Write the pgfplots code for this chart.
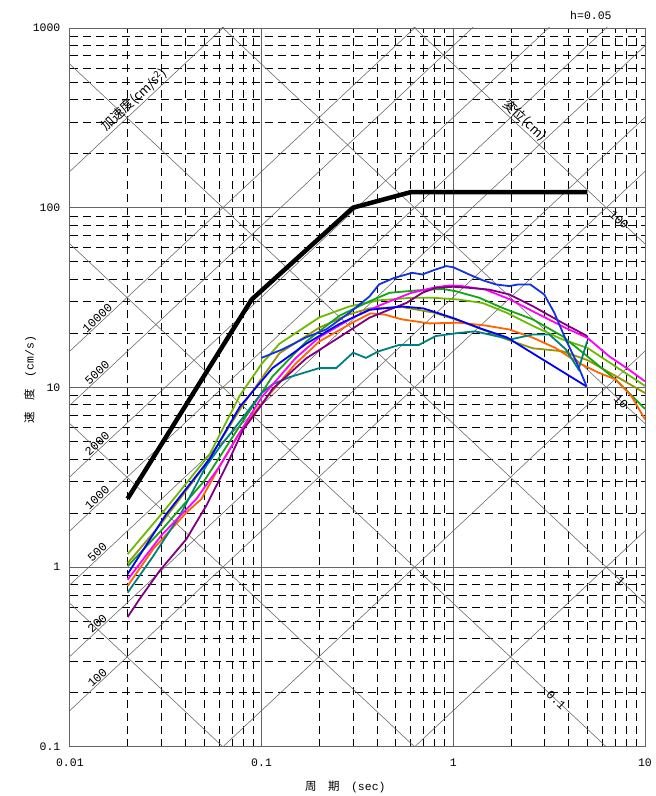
\documentclass[border=0pt]{standalone}
\usepackage{pgfplots}
\pgfplotsset{compat=1.18}
\usepackage{fontspec}
\setmainfont{Liberation Serif}
\newfontfamily\cjk{Noto Sans CJK JP}
\newfontfamily\monof{Liberation Mono}
\definecolor{clime}{RGB}{110,185,0}
\definecolor{cgreen}{RGB}{20,165,20}
\definecolor{colive}{RGB}{150,150,0}
\definecolor{cblue}{RGB}{0,0,255}
\definecolor{ccyb}{RGB}{20,50,225}
\definecolor{cmag}{RGB}{255,0,255}
\definecolor{cpur}{RGB}{128,0,128}
\definecolor{corange}{RGB}{255,100,0}
\definecolor{cteal}{RGB}{0,128,128}
\definecolor{gridgray}{RGB}{100,100,100}
\begin{document}
\begin{tikzpicture}
\begin{axis}[
  xmode=log, ymode=log,
  xmin=0.01, xmax=10, ymin=0.1, ymax=1000,
  width=576pt, height=720pt, scale only axis,
  clip mode=individual,
  axis line style={gridgray, line width=0.9pt},
  xtick={0.01,0.1,1,10}, xticklabels={0.01,0.1,1,10},
  ytick={0.1,1,10,100,1000}, yticklabels={0.1,1,10,100,1000},
  minor xtick={0.02,0.03,0.04,0.05,0.06,0.07,0.08,0.09,0.2,0.3,0.4,0.5,0.6,0.7,0.8,0.9,2,3,4,5,6,7,8,9},
  minor ytick={0.2,0.3,0.4,0.5,0.6,0.7,0.8,0.9,2,3,4,5,6,7,8,9,20,30,40,50,60,70,80,90,200,300,400,500,600,700,800,900},
  grid=both,
  major grid style={gridgray, line width=0.8pt},
  minor grid style={black, line width=0.6pt, dash pattern=on 8pt off 5pt},
  major tick length=0pt, minor tick length=0pt,
  xticklabel style={font=\monof\fontsize{11.5}{13}\selectfont, anchor=north, yshift=-9pt},
  yticklabel style={font=\monof\fontsize{11.5}{13}\selectfont, xshift=-6pt},
]
% acceleration lines (SA = const)
\addplot[gridgray, line width=0.55pt, forget plot] coordinates {(0.01,0.0015915) (10,1.5915)};
\addplot[gridgray, line width=0.55pt, forget plot] coordinates {(0.01,0.015915) (10,15.915)};
\addplot[gridgray, line width=0.55pt, forget plot] coordinates {(0.01,0.15915) (10,159.15)};
\addplot[gridgray, line width=0.55pt, forget plot] coordinates {(0.01,0.31831) (10,318.31)};
\addplot[gridgray, line width=0.55pt, forget plot] coordinates {(0.01,0.79577) (10,795.77)};
\addplot[gridgray, line width=0.55pt, forget plot] coordinates {(0.01,1.5915) (10,1591.5)};
\addplot[gridgray, line width=0.55pt, forget plot] coordinates {(0.01,3.1831) (10,3183.1)};
\addplot[gridgray, line width=0.55pt, forget plot] coordinates {(0.01,7.9577) (10,7957.7)};
\addplot[gridgray, line width=0.55pt, forget plot] coordinates {(0.01,15.915) (10,15915)};
\addplot[gridgray, line width=0.55pt, forget plot] coordinates {(0.01,159.15) (10,159150)};
% displacement lines (SD = const)
\addplot[gridgray, line width=0.55pt, forget plot] coordinates {(0.01,0.62832) (10,0.00062832)};
\addplot[gridgray, line width=0.55pt, forget plot] coordinates {(0.01,6.2832) (10,0.0062832)};
\addplot[gridgray, line width=0.55pt, forget plot] coordinates {(0.01,62.832) (10,0.062832)};
\addplot[gridgray, line width=0.55pt, forget plot] coordinates {(0.01,628.32) (10,0.62832)};
\addplot[gridgray, line width=0.55pt, forget plot] coordinates {(0.01,6283.2) (10,6.2832)};
\addplot[gridgray, line width=0.55pt, forget plot] coordinates {(0.01,62832) (10,62.832)};
% spectra
\addplot[clime, line width=1.8pt] coordinates {(0.02,1.18) (0.03,1.97) (0.0536,4.24) (0.077,9.0) (0.1,13.5) (0.124,17.5) (0.2,24.5) (0.287,28.2) (0.41,30.5) (0.6,31.5) (0.8,31.5) (1.07,30.8) (1.42,29.5) (1.9,26) (2.6,22) (3.7,18.5) (5,16.6) (7,13.1) (10,10.2)};
\addplot[colive, line width=1.8pt] coordinates {(0.02,1.05) (0.03,1.75) (0.05,3.6) (0.08,8.0) (0.124,15.5) (0.2,21.5) (0.287,25.5) (0.365,27.5) (0.54,28) (0.8,26) (1.07,23.5) (1.42,21) (1.9,18.5) (2.6,16.5) (3.7,15.9) (5,14.2) (7,11.6) (10,9.3)};
\addplot[cgreen, line width=1.8pt] coordinates {(0.02,1.01) (0.03,1.6) (0.05,3.0) (0.08,6.5) (0.114,11.5) (0.171,18) (0.254,25) (0.365,30.1) (0.465,33.6) (0.66,34.7) (0.88,35.3) (1.03,34.3) (1.37,31.5) (1.8,27.7) (2.6,23.9) (3.7,19.3) (5,14.9) (7,11.1) (10,7.6)};
\addplot[corange, line width=1.8pt] coordinates {(0.02,0.784) (0.0272,1.26) (0.0405,2.01) (0.0485,2.39) (0.0605,3.65) (0.0767,5.6) (0.0976,7.87) (0.15,13.5) (0.2,18) (0.3,23) (0.37,25.8) (0.44,25.4) (0.54,23.9) (0.75,22.7) (1.07,22.9) (1.47,22.1) (1.96,21) (2.6,18.9) (3.4,16.6) (4.5,13.7) (5.7,12.1) (7,11.1) (8.5,8.95) (10,6.64)};
\addplot[cteal, line width=1.8pt] coordinates {(0.02,0.72) (0.0272,1.15) (0.0373,1.92) (0.0514,3.65) (0.06,4.6) (0.08,6.8) (0.1,9.3) (0.114,10.4) (0.14,11.4) (0.2,12.8) (0.245,12.8) (0.3,15.6) (0.35,14.6) (0.41,15.9) (0.52,17.2) (0.66,17.2) (0.81,19.3) (1.07,20.1) (1.3,20.5) (1.6,19.5) (2.0,18.5) (2.6,19.7) (3.17,19.7) (3.86,16.3) (4.5,12.6) (5.0,18.1)};
\addplot[cmag, line width=1.8pt] coordinates {(0.02,0.85) (0.03,1.5) (0.0456,2.39) (0.0605,3.65) (0.08,6.0) (0.1,8.8) (0.15,14.5) (0.2,19) (0.3,24.5) (0.41,28.5) (0.6,33.5) (0.8,36) (0.96,36.9) (1.11,36.6) (1.47,35) (1.96,31) (2.6,26.5) (3.86,21.4) (5,18.9) (6.5,14.9) (8.2,12.6) (10,10.8)};
\addplot[cpur, line width=1.8pt] coordinates {(0.02,0.527) (0.0231,0.664) (0.0294,0.954) (0.0405,1.43) (0.0514,2.19) (0.0655,3.65) (0.08,5.8) (0.1,8.0) (0.114,9.8) (0.171,14.5) (0.254,19) (0.365,24.4) (0.465,27.1) (0.57,29.5) (0.69,33.6) (0.81,35.8) (1.0,36.3) (1.21,35.8) (1.54,35.0) (1.96,32.9) (2.6,28.3) (3.7,22.9) (5.0,19.3)};
\addplot[cblue, line width=1.8pt] coordinates {(0.02,0.914) (0.0318,1.97) (0.0536,4.0) (0.077,7.8) (0.09,9.5) (0.114,12.8) (0.171,17.5) (0.254,22.5) (0.365,27) (0.54,28.2) (0.7,27.5) (1.0,24.3) (1.4,21.2) (1.9,19) (4.97,10.1)};
\addplot[ccyb, line width=1.8pt] coordinates {(0.1,14.6) (0.129,16.3) (0.171,19) (0.217,21) (0.287,26) (0.365,32) (0.41,37.4) (0.49,40.6) (0.61,43.4) (0.69,42.5) (0.81,45.3) (0.92,47.3) (1.0,46.6) (1.21,42.5) (1.42,39.5) (1.67,37.4) (1.96,36.6) (2.18,37.4) (2.52,37.4) (2.98,32.9) (3.36,26.1) (3.86,18.5) (4.37,14) (4.97,10.1)};
\addplot[black, line width=4.5pt] coordinates {(0.02,2.4) (0.0887,30.8) (0.3,100) (0.6,122) (5.0,122)};
% line labels
\begin{scope}[every node/.style={font=\monof\fontsize{12}{13}\selectfont, inner sep=1pt}]
\node[anchor=south, rotate=43.15] at (axis cs:0.0145,0.2308) {100};
\node[anchor=south, rotate=43.15] at (axis cs:0.0145,0.4615) {200};
\node[anchor=south, rotate=43.15] at (axis cs:0.0145,1.154) {500};
\node[anchor=south, rotate=43.15] at (axis cs:0.0145,2.308) {1000};
\node[anchor=south, rotate=43.15] at (axis cs:0.0145,4.615) {2000};
\node[anchor=south, rotate=43.15] at (axis cs:0.0145,11.54) {5000};
\node[anchor=south, rotate=43.15] at (axis cs:0.0145,23.08) {10000};
\node[rotate=-43.15] at (axis cs:7.32,85.8) {100};
\node[rotate=-43.15] at (axis cs:7.5,8.38) {10};
\node[rotate=-43.15] at (axis cs:7.5,0.838) {1};
\node[rotate=-43.15] at (axis cs:3.44,0.1826) {0.1};
\end{scope}
\node[anchor=south, rotate=43.15, inner sep=1pt, font=\cjk\fontsize{13}{14}\selectfont] at (axis cs:0.02315,368.5) {加速度(cm/s\textsuperscript{2})};
\node[anchor=south, rotate=-43.15, inner sep=1pt, font=\cjk\fontsize{13}{14}\selectfont] at (axis cs:2.207,284.7) {変位(cm)};
\coordinate (hlab) at (rel axis cs:0.906,1);
\coordinate (ylab) at (rel axis cs:0,0.511);
\coordinate (xlab) at (rel axis cs:0.479,0);
\coordinate (bbSW) at (rel axis cs:0,0);
\coordinate (bbNE) at (rel axis cs:1,1);
\end{axis}
\node[font=\monof\fontsize{11.5}{13}\selectfont] at ([yshift=13pt]hlab) {h=0.05};
\node[rotate=90, font=\fontsize{11.5}{13}\selectfont] at ([xshift=-40pt]ylab) {{\cjk 速\hspace{1em}度}\hspace{1em}{\monof (cm/s)}};
\node[font=\fontsize{11.5}{13}\selectfont] at ([yshift=-40pt]xlab) {{\cjk 周\hspace{1em}期}\hspace{1em}{\monof (sec)}};
\path ([shift={(-70pt,-48pt)}]bbSW) rectangle ([shift={(10pt,28pt)}]bbNE);
\end{tikzpicture}
\end{document}
